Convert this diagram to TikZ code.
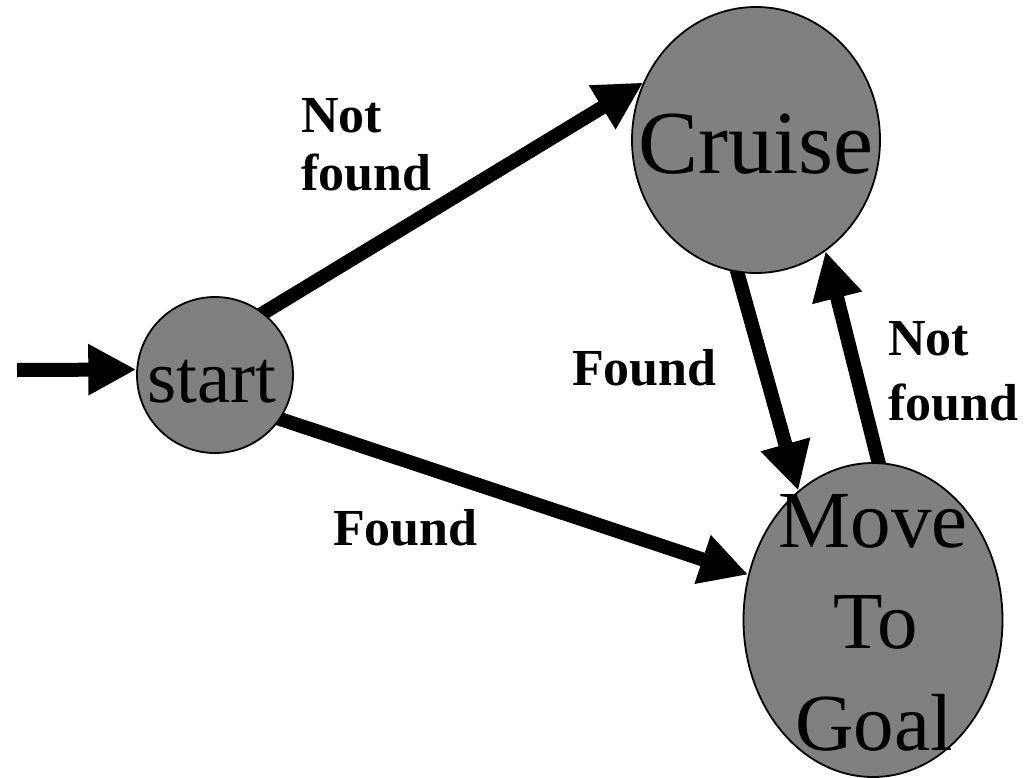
\documentclass[tikz,border=0pt]{standalone}
\usepackage{fontspec}
\setmainfont{Liberation Serif}
\usetikzlibrary{arrows.meta,shapes.geometric,backgrounds}
\tikzset{
  state/.style={ellipse, draw=black, line width=1.8pt, fill=gray, inner sep=0pt},
  bigtxt/.style={anchor=base, inner sep=0pt, font=\fontsize{#1}{#1}\selectfont},
  lbl/.style={anchor=base west, inner sep=0pt, font=\fontsize{52}{58}\selectfont\bfseries},
  trans/.style={line width=14pt, -{Triangle[length=48pt,width=48pt]}}
}
\begin{document}
\begin{tikzpicture}[x=1pt,y=-1pt]
\useasboundingbox (0,0) rectangle (1035,777);
% states
\node[state, minimum width=156pt, minimum height=156pt] (start) at (215,375) {};
\node[state, minimum width=248pt, minimum height=266pt] (cruise) at (756,140) {};
\node[state, minimum width=259pt, minimum height=314pt] (move) at (873,620) {};
% state texts
\node[bigtxt=75] (tstart) at (212,402) {start};
\node[bigtxt=90] (tcruise) at (756,173) {Cruise};
\node[bigtxt=81] (tmove) at (873,547) {Move};
\node[bigtxt=81] (tto) at (876,648) {To};
\node[bigtxt=81] (tgoal) at (874,750) {Goal};
% labels
\node[lbl] (nfA1) at (301,132) {Not};
\node[lbl] (nfA2) at (301,190) {found};
\node[lbl] (fA) at (333,545) {Found};
\node[lbl] (fB) at (572,385) {Found};
\node[lbl] (nfB1) at (888,355) {Not};
\node[lbl] (nfB2) at (888,420) {found};
\coordinate (entry) at (17,370);
% transitions
\begin{scope}[on background layer]
\draw[trans] (entry) -- (start.176);
\draw[trans, shorten <=-8pt] (start.52) -- (cruise.153);
\draw[trans, shorten <=-8pt] (start.-34) -- (move.160);
\draw[trans, shorten <=-8pt] (cruise.-98) -- (move.120);
\draw[trans, shorten <=-8pt] (move.88.5) -- (cruise.-58);
\end{scope}
\end{tikzpicture}
\end{document}
